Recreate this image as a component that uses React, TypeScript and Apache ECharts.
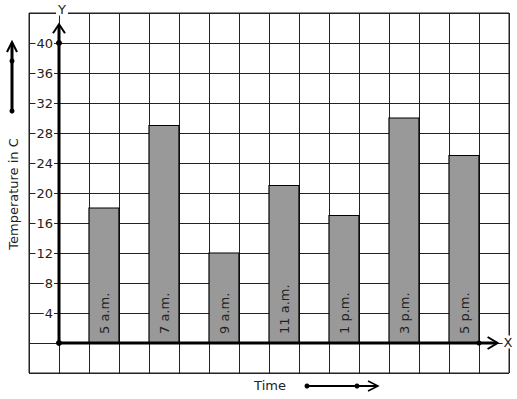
import React, { useEffect, useRef } from "react";
import * as echarts from "echarts";

const times = ["5 a.m.", "7 a.m.", "9 a.m.", "11 a.m.", "1 p.m.", "3 p.m.", "5 p.m."];
const temps = [18, 29, 12, 21, 17, 30, 25];
const barStarts = [1, 3, 5, 7, 9, 11, 13];
const yTickLabels = [4, 8, 12, 16, 20, 24, 28, 32, 36, 40];

const FONT = "DejaVu Sans";
const INK = "#222";

export default function App() {
  const ref = useRef<HTMLDivElement>(null);
  useEffect(() => {
    const chart = echarts.init(ref.current!, null, { renderer: "svg" });
    const barData = times.map((t, i) => [barStarts[i], temps[i], t]);
    chart.setOption({
      animation: false,
      backgroundColor: "#fff",
      grid: { left: 29, top: 13, width: 480, height: 360, show: true, borderColor: INK, borderWidth: 1 },
      xAxis: {
        type: "value", min: -1, max: 15, interval: 1,
        axisLine: { show: false }, axisTick: { show: false }, axisLabel: { show: false },
        splitLine: { show: true, lineStyle: { color: INK, width: 1 } },
      },
      yAxis: {
        type: "value", min: -4, max: 44, interval: 4,
        axisLine: { show: false }, axisTick: { show: false },
        splitLine: { show: true, lineStyle: { color: INK, width: 1 } },
        axisLabel: {
          margin: -25,
          color: INK,
          fontFamily: FONT,
          fontSize: 13,
          backgroundColor: "#fff",
          padding: [0, 1, 0, 1],
          formatter: (v: number) => (yTickLabels.indexOf(v) >= 0 ? String(v) : ""),
        },
      },
      series: [
        {
          type: "custom",
          data: barData,
          z: 3,
          renderItem: (params: any, api: any) => {
            const x0 = api.value(0);
            const v = api.value(1);
            const label = times[params.dataIndex];
            const p0 = api.coord([x0, v]);
            const p1 = api.coord([x0 + 1, 0]);
            return {
              type: "group",
              children: [
                {
                  type: "rect",
                  shape: { x: p0[0], y: p0[1], width: p1[0] - p0[0], height: p1[1] - p0[1] },
                  style: { fill: "#999999", stroke: "#000", lineWidth: 1.2 },
                },
                {
                  type: "text",
                  x: (p0[0] + p1[0]) / 2,
                  y: p1[1] - 9,
                  rotation: Math.PI / 2,
                  style: {
                    text: label, fill: INK, font: `13px '${FONT}'`,
                    align: "left", verticalAlign: "middle",
                  },
                },
              ],
            };
          },
        },
        {
          type: "custom",
          data: [[0, 0]],
          z: 4,
          renderItem: (params: any, api: any) => {
            const o = api.coord([0, 0]);
            const yTop = api.coord([0, 42.5]);
            const y40 = api.coord([0, 40]);
            const xEnd = api.coord([14.62, 0]);
            const x14 = api.coord([14, 0]);
            const ls = { stroke: "#000", lineWidth: 3 };
            const as = { stroke: "#000", lineWidth: 2, fill: "none" };
            return {
              type: "group",
              children: [
                { type: "line", shape: { x1: o[0], y1: o[1], x2: yTop[0], y2: yTop[1] + 1 }, style: ls },
                { type: "polyline", shape: { points: [[yTop[0] - 6, yTop[1] + 9], [yTop[0], yTop[1]], [yTop[0] + 6, yTop[1] + 9]] }, style: as },
                { type: "line", shape: { x1: o[0], y1: o[1], x2: xEnd[0] - 1, y2: xEnd[1] }, style: ls },
                { type: "polyline", shape: { points: [[xEnd[0] - 10, xEnd[1] - 6], [xEnd[0], xEnd[1]], [xEnd[0] - 10, xEnd[1] + 6]] }, style: as },
                { type: "circle", shape: { cx: o[0], cy: o[1], r: 3 }, style: { fill: "#000" } },
                { type: "circle", shape: { cx: y40[0], cy: y40[1], r: 3 }, style: { fill: "#000" } },
                { type: "circle", shape: { cx: x14[0], cy: x14[1], r: 2.5 }, style: { fill: "#000" } },
              ],
            };
          },
        },
      ],
      graphic: [
        { type: "text", x: 62, y: 9, style: { text: "Y", font: `13px '${FONT}'`, fill: INK, align: "center", verticalAlign: "middle", backgroundColor: "#fff", padding: [0, 2] }, z: 10 },
        { type: "text", x: 508, y: 342, style: { text: "X", font: `13px '${FONT}'`, fill: INK, align: "center", verticalAlign: "middle", backgroundColor: "#fff", padding: [0, 1] }, z: 10 },
        { type: "text", x: 270, y: 385, style: { text: "Time", font: `13px '${FONT}'`, fill: INK, align: "center", verticalAlign: "middle" } },
        { type: "text", x: 13, y: 194, rotation: Math.PI / 2, style: { text: "Temperature in C", font: `13px '${FONT}'`, fill: INK, align: "center", verticalAlign: "middle" } },
        // left arrow
        { type: "line", shape: { x1: 12, y1: 111, x2: 12, y2: 43 }, style: { stroke: "#000", lineWidth: 3 } },
        { type: "polyline", shape: { points: [[7, 52], [12, 42], [17, 52]] }, style: { stroke: "#000", lineWidth: 2, fill: "none" } },
        { type: "circle", shape: { cx: 12, cy: 61, r: 2.5 }, style: { fill: "#000" } },
        { type: "circle", shape: { cx: 12, cy: 111, r: 2.5 }, style: { fill: "#000" } },
        // time arrow
        { type: "line", shape: { x1: 307, y1: 386, x2: 377, y2: 386 }, style: { stroke: "#000", lineWidth: 2 } },
        { type: "polyline", shape: { points: [[368, 381], [378, 386], [368, 391]] }, style: { stroke: "#000", lineWidth: 1.5, fill: "none" } },
        { type: "circle", shape: { cx: 307, cy: 386, r: 2.5 }, style: { fill: "#000" } },
        { type: "circle", shape: { cx: 357, cy: 386, r: 2.5 }, style: { fill: "#000" } },
      ],
    });
    return () => chart.dispose();
  }, []);
  return <div ref={ref} style={{ width: 517, height: 399, position: "absolute", left: 0, top: 0 }} />;
}
